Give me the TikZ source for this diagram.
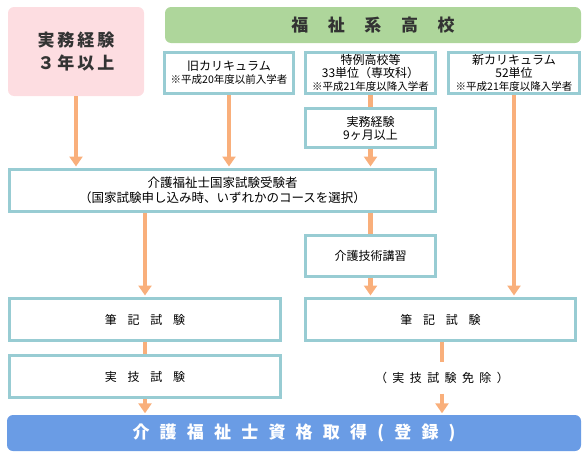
\documentclass[tikz,border=0pt]{standalone}
\usepackage{fontspec}
\setmainfont{Noto Sans CJK JP}
\usetikzlibrary{arrows.meta,positioning}
\definecolor{Edge}{HTML}{98CCD3}
\definecolor{Blush}{HTML}{FDDDE1}
\definecolor{Leaf}{HTML}{AED69B}
\definecolor{Sky}{HTML}{6A9CE5}
\definecolor{Peach}{HTML}{F9AF7B}
\definecolor{Ink}{HTML}{333333}
\newcommand{\gp}[1][0.9em]{\hspace{#1}}
\newcommand{\notesize}{\fontsize{10.5}{13}\selectfont}
\tikzset{
 box/.style={draw=Edge,line width=3pt,fill=white,align=center,font=\fontsize{12}{13}\selectfont,inner sep=0pt},
 banner/.style={rounded corners=6pt,align=center,inner sep=0pt,font=\fontsize{17}{23}\selectfont\bfseries},
 arr/.style={-{Triangle[width=13pt,length=10pt]},line width=4.5pt,draw=Peach,shorten >=1.5pt},
 link/.style={line width=4.5pt,draw=Peach}
}
\begin{document}
\begin{tikzpicture}[x=1pt,y=-1pt]
\useasboundingbox (0,0) rectangle (586,458);
% top row
\node[banner,fill=Blush,text=Ink,minimum width=136pt,minimum height=89pt] (exp) at (76,51.5) {実\gp[3pt]務\gp[3pt]経\gp[3pt]験\\３\gp[3pt]年\gp[3pt]以\gp[3pt]上};
\node[banner,fill=Leaf,text=Ink,minimum width=416pt,minimum height=36pt] (hs) at (373,25) {福\gp[1.15em]祉\gp[1.15em]系\gp[1.15em]高\gp[1.15em]校};
\node[box,minimum width=129pt,minimum height=41pt] (old) at (229,73) {旧カリキュラム\\{\notesize ※平成20年度以前入学者}};
\node[box,minimum width=130pt,minimum height=41pt] (spec) at (370.5,73) {特例高校等\\33単位（専攻科）\\{\notesize ※平成21年度以降入学者}};
\node[box,minimum width=131pt,minimum height=41pt] (new) at (514,73) {新カリキュラム\\52単位\\{\notesize ※平成21年度以降入学者}};
\node[box,minimum width=130pt,minimum height=39pt,below=12pt of spec] (nine) {実務経験\\9ヶ月以上};
% exam and courses
\node[box,minimum width=426pt,minimum height=42pt,font=\fontsize{12.5}{15}\selectfont] (exam) at (222.5,190.5) {介護福祉士国家試験受験者\\（国家試験申し込み時、いずれかのコースを選択）};
\node[box,minimum width=130pt,minimum height=41pt,below=21pt of exam.south-|nine] (tech) {介護技術講習};
\node[box,minimum width=271pt,minimum height=42pt] (wl) at (145,319.5) {筆\gp 記\gp 試\gp 験};
\node[box,minimum width=270pt,minimum height=42pt] (wr) at (440.5,319.5) {筆\gp 記\gp 試\gp 験};
\node[box,minimum width=271pt,minimum height=42pt,below=12pt of wl] (pl) {実\gp 技\gp 試\gp 験};
\node[font=\fontsize{12}{13}\selectfont,inner sep=0pt,minimum height=31pt] (ex) at (442,378) {（\gp[0.45em]実\gp[0.45em]技\gp[0.45em]試\gp[0.45em]験\gp[0.45em]免\gp[0.45em]除\gp[0.45em]）};
\node[banner,fill=Sky,text=white,minimum width=574pt,minimum height=36pt] (goal) at (294,433) {介\gp[0.6em]護\gp[0.6em]福\gp[0.6em]祉\gp[0.6em]士\gp[0.6em]資\gp[0.6em]格\gp[0.6em]取\gp[0.6em]得\gp[0.6em](\gp[0.6em]登\gp[0.6em]録\gp[0.6em])};
% connectors
\foreach \a/\b in {exp/exam,old/exam,nine/exam,tech/wr,new/wr,pl/goal,ex/goal} \draw[arr] (\a.south) -- (\a.south |- \b.north);
\draw[arr] (wl.north |- exam.south) -- (wl.north);
\draw[link] (spec) -- (nine);
\draw[link] (tech.north |- exam.south) -- (tech.north);
\draw[link] (wl) -- (pl);
\draw[link] (ex.north |- wr.south) -- (ex.north);
\end{tikzpicture}
\end{document}
